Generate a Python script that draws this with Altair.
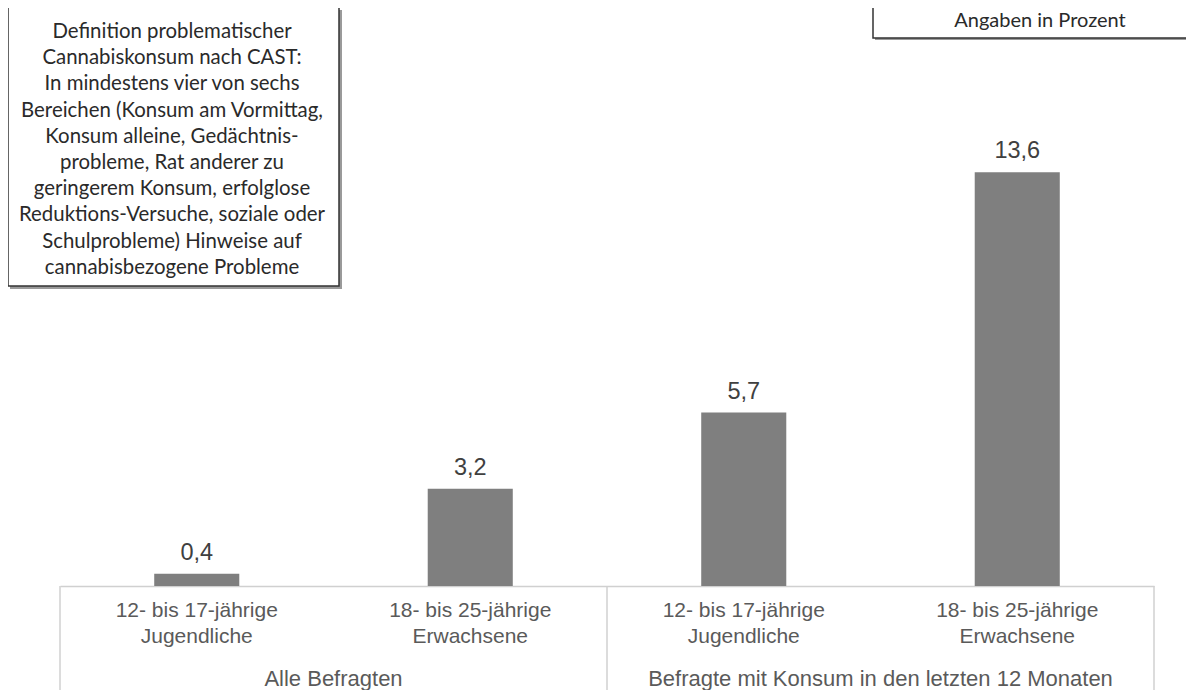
import altair as alt
import pandas as pd

groups = ["Alle Befragten", "Alle Befragten",
          "Befragte mit Konsum in den letzten 12 Monaten",
          "Befragte mit Konsum in den letzten 12 Monaten"]
ages = ["12- bis 17-jährige\nJugendliche", "18- bis 25-jährige\nErwachsene",
        "12- bis 17-jährige\nJugendliche", "18- bis 25-jährige\nErwachsene"]
values = [0.4, 3.2, 5.7, 13.6]

box_lines = [
    "Definition problematischer",
    "Cannabiskonsum nach CAST:",
    "In mindestens vier von sechs",
    "Bereichen (Konsum am Vormittag,",
    "Konsum alleine, Gedächtnis-",
    "probleme, Rat anderer zu",
    "geringerem Konsum, erfolglose",
    "Reduktions-Versuche, soziale oder",
    "Schulprobleme) Hinweise auf",
    "cannabisbezogene Probleme",
]
unit_note = "Angaben in Prozent"

keys = [g + "|" + a for g, a in zip(groups, ages)]
df = pd.DataFrame({"key": keys, "group": groups, "age": ages, "value": values})

xscale = alt.Scale(paddingInner=0, paddingOuter=0)
x_enc = alt.X(
    "key:N", sort=keys, scale=xscale, title=None,
    axis=alt.Axis(
        labelExpr="split(split(datum.label, '|')[1], '\\n')",
        labelAngle=0, labelAlign="center", ticks=False, domain=True,
        domainColor="#d0d0d0", domainWidth=1.5, labelFont="Liberation Sans",
        labelFontSize=21, labelColor="#5a5a5a", labelPadding=24,
        labelLineHeight=26,
    ),
)
y_enc = alt.Y("value:Q", scale=alt.Scale(domain=[0, 19], nice=False), axis=None)

base = alt.Chart(df)
bars = base.mark_bar(width=alt.RelativeBandSize(0.311), color="#7f7f7f").encode(
    x=x_enc, y=y_enc
)
labels = base.transform_calculate(
    lbl="replace(format(datum.value, '.1f'), '.', ',')"
).mark_text(
    baseline="bottom", dy=-9, font="Liberation Sans", fontSize=23.5, color="#404040"
).encode(
    x=alt.X("key:N", sort=keys), y=alt.Y("value:Q"), text="lbl:N"
)

grp_df = pd.DataFrame({"key": [keys[0], keys[2]], "group": [groups[0], groups[2]]})
grp_text = alt.Chart(grp_df).mark_text(
    font="Liberation Sans", fontSize=22, color="#5a5a5a", baseline="middle"
).encode(
    x=alt.X("key:N", sort=keys, bandPosition=1), y=alt.value(671), text="group:N"
)

rules_start = alt.Chart(pd.DataFrame({"key": [keys[0], keys[2]]})).mark_rule(
    color="#d0d0d0", strokeWidth=1.5
).encode(
    x=alt.X("key:N", sort=keys, bandPosition=0), y=alt.value(578), y2=alt.value(700)
)
rules_end = alt.Chart(pd.DataFrame({"key": [keys[3]]})).mark_rule(
    color="#d0d0d0", strokeWidth=1.5
).encode(
    x=alt.X("key:N", sort=keys, bandPosition=1), y=alt.value(578), y2=alt.value(700)
)

box_df = pd.DataFrame({"t": ["\n".join(box_lines)]})
box_shadow = alt.Chart(box_df).mark_rect(fill="#9a9a9a").encode(
    x=alt.value(-50), x2=alt.value(282), y=alt.value(2), y2=alt.value(281)
)
box = alt.Chart(box_df).mark_rect(fill="white", stroke="#333333", strokeWidth=1.5).encode(
    x=alt.value(-52), x2=alt.value(279), y=alt.value(-2), y2=alt.value(278)
)
box_text = alt.Chart(box_df).mark_text(
    lineBreak="\n", lineHeight=26.2, font="Lato", fontSize=20.4, color="#2a2a2a",
    align="center", baseline="top"
).encode(x=alt.value(112), y=alt.value(14), text="t:N")

note_df = pd.DataFrame({"t": [unit_note]})
note_shadow = alt.Chart(note_df).mark_rect(fill="#9a9a9a").encode(
    x=alt.value(815), x2=alt.value(1200), y=alt.value(-20), y2=alt.value(32)
)
note_box = alt.Chart(note_df).mark_rect(fill="white", stroke="#333333", strokeWidth=1.5).encode(
    x=alt.value(813), x2=alt.value(1200), y=alt.value(-20), y2=alt.value(30)
)
note_text = alt.Chart(note_df).mark_text(
    font="Lato", fontSize=20, color="#2a2a2a", align="center", baseline="middle"
).encode(x=alt.value(980), y=alt.value(13), text="t:N")

chart = alt.layer(
    rules_start, rules_end, bars, labels, grp_text,
    box_shadow, box, box_text, note_shadow, note_box, note_text
).properties(
    width=1094, height=578,
    autosize=alt.AutoSizeParams(type="none"),
    padding={"left": 52, "right": 32, "top": 0, "bottom": 104},
).configure_view(stroke=None)

chart.save("out.html", embed_options={"renderer": "svg", "actions": False})
